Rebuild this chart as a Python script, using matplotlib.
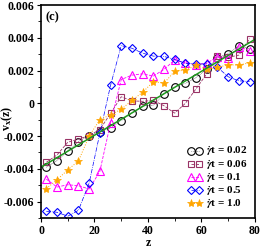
import matplotlib
matplotlib.use('Agg')
import matplotlib.pyplot as plt
from matplotlib.ticker import MultipleLocator

plt.rcParams['font.family'] = 'Liberation Serif'
plt.rcParams['font.weight'] = 'bold'
plt.rcParams['mathtext.fontset'] = 'stix'

z = [2, 6, 10, 14, 18, 22, 26, 30, 34, 38, 42, 46, 50, 54, 58, 62, 66, 70, 74, 78]

v_002 = [-0.0039, -0.0035, -0.0029, -0.00234, -0.00198, -0.00174, -0.0015, -0.00105,
         -0.00062, -0.00016, -0.00012, 0.00059, 0.00101, 0.00122, 0.00157, 0.00208,
         0.00279, 0.00303, 0.00352, 0.00333]
v_006 = [-0.0036, -0.00315, -0.00238, -0.00218, -0.00198, -0.0016, -0.00062, 0.0004,
         0.00015, 0.00012, 0.00018, -0.00015, -0.0006, 0.0, 0.00089, 0.0018,
         0.00288, 0.00281, 0.00294, 0.00395]
v_01 = [-0.00463, -0.00511, -0.00497, -0.00503, -0.00523, -0.00416, -0.0012, 0.00145,
        0.00172, 0.0018, 0.00166, 0.00207, 0.00265, 0.00246, 0.00236, 0.00245,
        0.00283, 0.00278, 0.00345, 0.00321]
v_05 = [-0.00659, -0.00665, -0.00689, -0.00653, -0.00487, -0.00184, 0.00109, 0.00352,
        0.00336, 0.00306, 0.00288, 0.00286, 0.00268, 0.00244, 0.0024, 0.0024,
        0.0022, 0.00162, 0.00137, 0.00133]
v_10 = [-0.0052, -0.00467, -0.00406, -0.00352, -0.002, -0.001, -0.0007, -0.00037,
        0.00018, 0.00067, 0.00132, 0.00123, 0.00196, 0.00202, 0.00232, 0.00207,
        0.0022, 0.00234, 0.00234, 0.00247]

# straight green reference line
fit_z = [0, 80]
fit_v = [-0.0039, 0.0039]

yticks = [-0.006, -0.004, -0.002, 0, 0.002, 0.004, 0.006]
ylabels = ['-0.006', '-0.004', '-0.002', '0', '0.002', '0.004', '0.006']
xticks = [0, 20, 40, 60, 80]

fig = plt.figure(figsize=(2.62, 2.5), dpi=100)
ax = fig.add_axes([0.1565, 0.128, 0.8165, 0.852])

ms = 5.5
ax.plot(z, v_002, color='black', ls=':', lw=0.4, marker='o', ms=ms, mfc='none',
        mew=0.8, label=r'$\dot{\gamma}$t = 0.02')
ax.plot(z, v_006, color='#993366', ls='--', lw=0.6, marker='s', ms=ms - 0.5, mfc='none',
        mew=0.8, label=r'$\dot{\gamma}$t = 0.06')
ax.plot(z, v_01, color='#ff00ff', ls='--', lw=0.6, marker='^', ms=ms, mfc='none',
        mew=0.8, label=r'$\dot{\gamma}$t = 0.1')
ax.plot(z, v_05, color='#0000ff', ls='-.', lw=0.5, marker='D', ms=ms - 1, mfc='none',
        mew=0.8, label=r'$\dot{\gamma}$t = 0.5')
ax.plot(z, v_10, color='#ffa500', ls=':', lw=0.7, marker='*', ms=ms + 0.5,
        mew=0.5, label=r'$\dot{\gamma}$t = 1.0')
ax.plot(fit_z, fit_v, color='#1f9a1f', lw=1.1)

ax.set_xlim(0, 80)
ax.set_ylim(-0.007, 0.006)
ax.set_xticks(xticks)
ax.set_xticklabels([str(t) for t in xticks])
ax.set_yticks(yticks)
ax.set_yticklabels(ylabels)
ax.xaxis.set_minor_locator(MultipleLocator(10))
ax.yaxis.set_minor_locator(MultipleLocator(0.001))
ax.tick_params(which='both', direction='out', labelsize=8.5, top=False, right=False)
ax.tick_params(which='major', length=3, width=0.8, pad=2)
ax.tick_params(which='minor', length=2, width=0.6)
for sp in ax.spines.values():
    sp.set_linewidth(1.2)

ax.set_xlabel('z', fontsize=8.5, fontweight='bold')
ax.xaxis.set_label_coords(0.5, -0.09)
ax.set_ylabel(r'v$_{\mathbf{x}}$(z)', fontsize=8.5, fontweight='bold')
ax.yaxis.set_label_coords(-0.12, 0.47)
ax.text(0.02, 0.97, '(c)', transform=ax.transAxes, fontsize=9, fontweight='bold',
        ha='left', va='top')

ax.legend(loc='lower right', frameon=False, numpoints=2, fontsize=8,
          handlelength=1.3, handletextpad=0.3, labelspacing=-0.05,
          borderaxespad=0.3, bbox_to_anchor=(1.0, -0.005))

fig.savefig('out.png', dpi=100)
